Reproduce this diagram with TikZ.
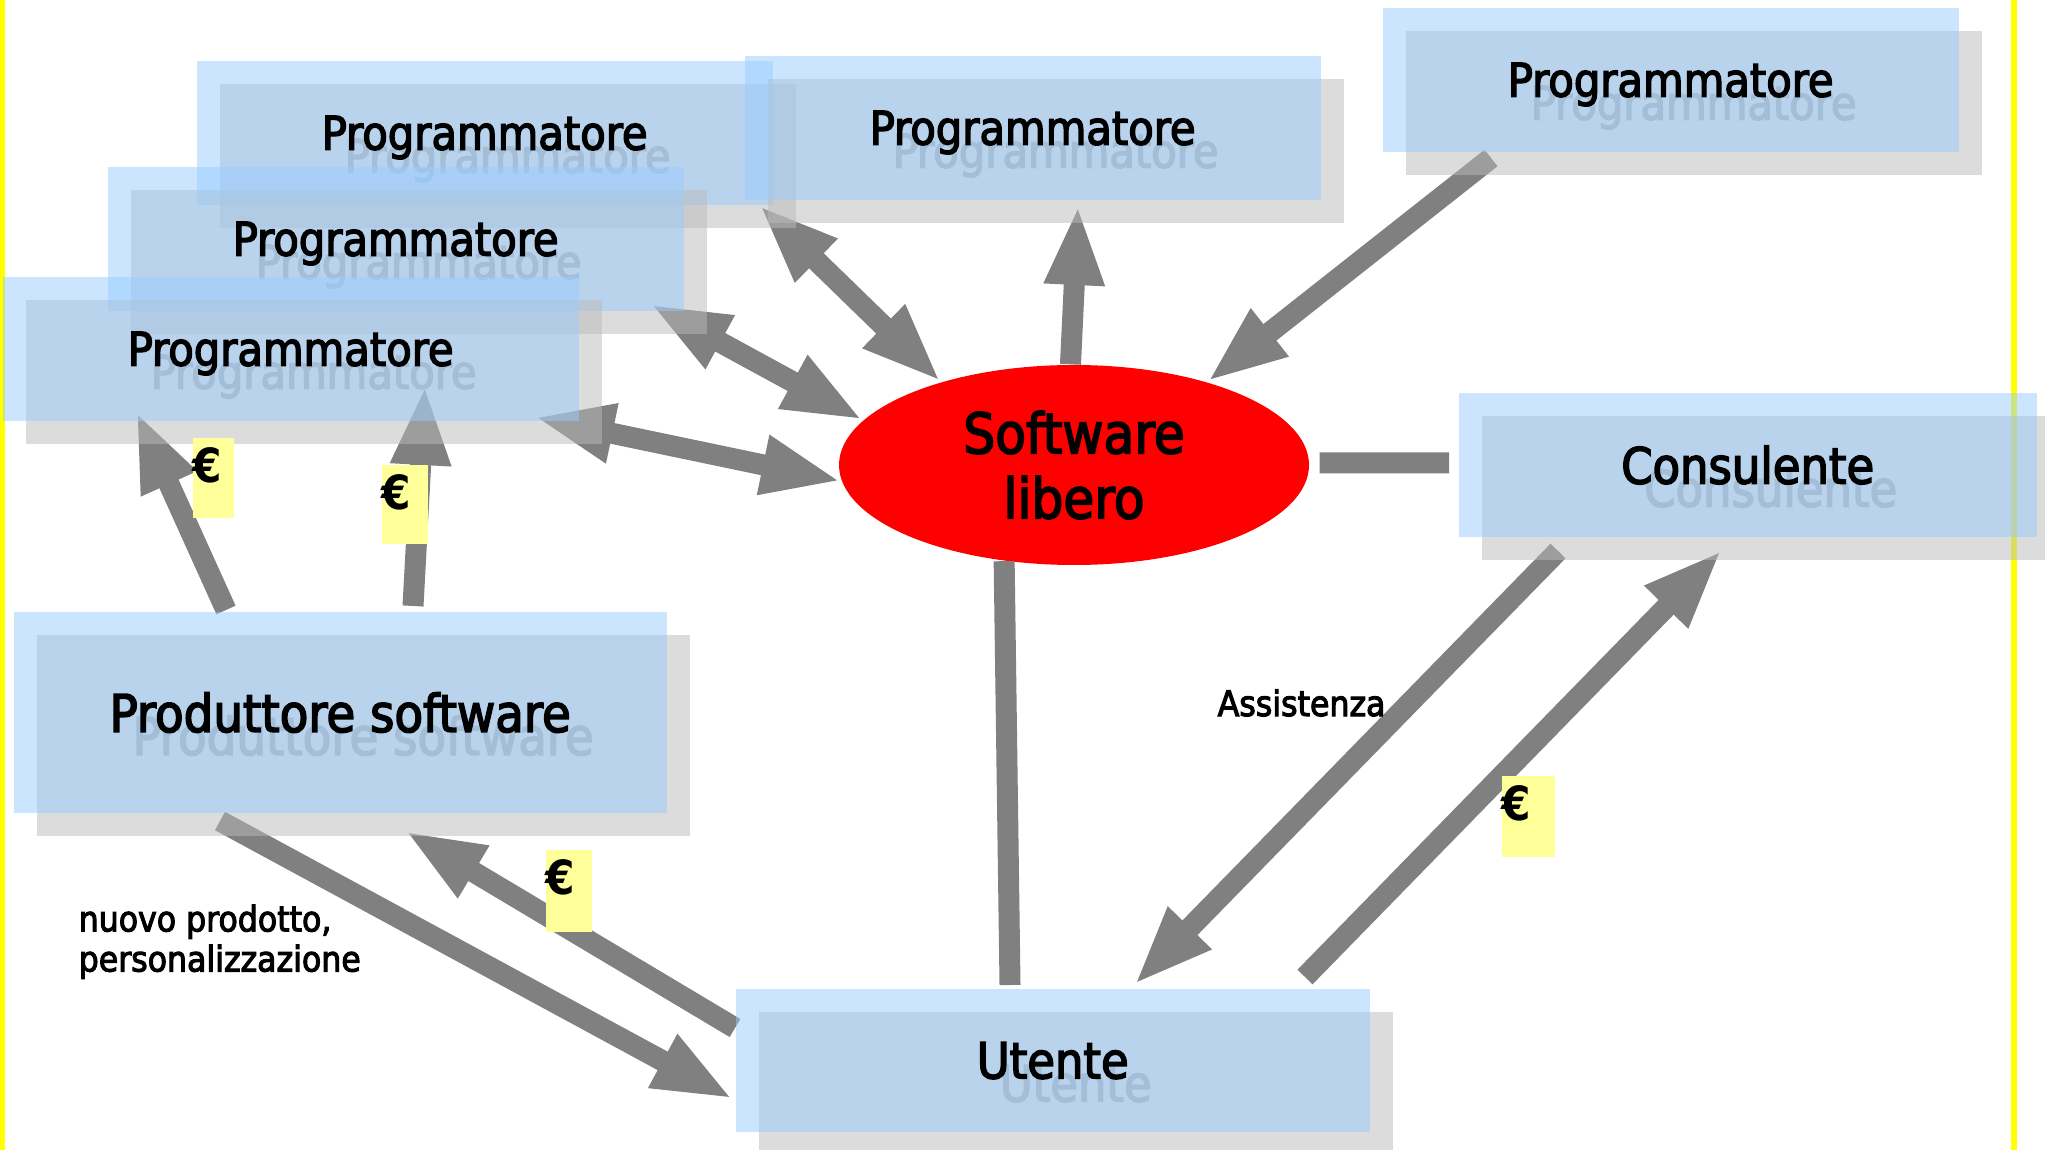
\documentclass[tikz,border=0pt]{standalone}
\usepackage{fontspec}
\setmainfont{DejaVu Sans Condensed}[UprightFeatures={FakeBold=3}]
\usetikzlibrary{arrows.meta,shapes.geometric}

\definecolor{boxblue}{HTML}{99CCFF}
\definecolor{shadowgray}{HTML}{BBBBBB}
\definecolor{ghostgray}{HTML}{B0B0B0}
\definecolor{flowgray}{HTML}{808080}
\definecolor{eurobg}{HTML}{FFFF99}
\definecolor{pageyellow}{HTML}{FFFF00}

\tikzset{
  box/.style={anchor=north west, inner sep=0pt, text depth=0pt, fill=boxblue, fill opacity=0.5, text opacity=1},
  shadowbox/.style={box, fill=shadowgray, text=ghostgray},
  prog/.style={minimum width=5.76cm, minimum height=1.44cm, font=\fontsize{13.2}{15.8}\selectfont},
  big/.style={font=\fontsize{14.2}{17}\selectfont},
  flow/.style={draw=flowgray, line width=0.21cm},
  eurobox/.style={anchor=north west, inner sep=0pt, fill=eurobg},
  eurosign/.style={anchor=north west, inner sep=0pt, yshift=-0.1cm, font=\fontsize{13.4}{16}\selectfont\bfseries},
  note/.style={inner sep=0pt, font=\fontsize{10}{11.4}\selectfont}
}

\begin{document}
\begin{tikzpicture}[>={Triangle[length=0.8cm,width=0.55cm]}]
\useasboundingbox (0,0) rectangle (20.45,-11.5);
\clip (0,0) rectangle (20.45,-11.5);
\fill[white] (0,0) rectangle (20.45,-11.5);
% page margins
\fill[pageyellow] (0,0) rectangle (0.05,-11.5);
\fill[pageyellow] (20.11,0) rectangle (20.17,-11.5);

% software libero
\node[ellipse, fill=red, minimum width=4.70cm, minimum height=2.00cm, inner sep=0pt, align=center,
  font=\fontsize{15.9}{18.5}\selectfont] (sl) at (10.74,-4.65) {Software\\libero};

% arrow ends at the boxes
\coordinate (p1a) at (7.59,-2.05);
\coordinate (p2a) at (6.50,-3.04);
\coordinate (p3a) at (5.34,-4.17);
\coordinate (p3b) at (1.36,-4.11);
\coordinate (p3c) at (4.25,-3.85);
\coordinate (p4a) at (10.78,-2.05);
\coordinate (p5a) at (14.91,-1.58);
\coordinate (cons) at (14.49,-4.63);
\coordinate (co1) at (15.58,-5.51);
\coordinate (co2) at (17.22,-5.50);
\coordinate (pr1) at (2.26,-6.10);
\coordinate (pr2) at (4.13,-6.06);
\coordinate (pr3) at (2.20,-8.21);
\coordinate (pr4) at (4.05,-8.31);
\coordinate (ut) at (10.10,-9.85);
\coordinate (ut1) at (7.33,-10.99);
\coordinate (ut2) at (7.35,-10.28);
\coordinate (ut3) at (11.34,-9.85);
\coordinate (ut4) at (13.05,-9.77);

% arrows
\draw[flow,<->] (p3a) -- (sl.184.7);
\draw[flow,<->] (p2a) -- (sl.168.8);
\draw[flow,<->] (p1a) -- (sl.148.9);
\draw[flow,->] (sl.92.3) -- (p4a);
\draw[flow,->] (p5a) -- (sl.32.6);
\draw[flow] ([shift={(0.1,0.02)}]sl.east) -- (cons);
\draw[flow] (sl.234) -- (ut);
\draw[flow,->] (pr1) -- (p3b);
\draw[flow,->] (pr2) -- (p3c);
\draw[flow,->] (pr3) -- (ut1);
\draw[flow,->] (ut2) -- (pr4);
\draw[flow,->] (co1) -- (ut3);
\draw[flow,->] (ut4) -- (co2);

% boxes, shadow first
\foreach \n/\x/\y in {p1/1.96/-0.60, p4/7.44/-0.55, p2/1.07/-1.66, p3/0.02/-2.76, p5/13.82/-0.07} {
  \node[shadowbox, prog] (\n s) at (\x+0.23,\y-0.23) {Programmatore};
  \node[box, prog] (\n) at (\x,\y) {Programmatore};
}
\node[shadowbox, big, minimum width=5.78cm, minimum height=1.44cm] (cs) at (14.81,-4.15) {Consulente};
\node[box, big, minimum width=5.78cm, minimum height=1.44cm] (co) at (14.58,-3.92) {Consulente};
\node[shadowbox, big, font=\fontsize{14.8}{17}\selectfont, minimum width=6.53cm, minimum height=2.01cm] (ps) at (0.36,-6.34) {Produttore software};
\node[box, big, font=\fontsize{14.8}{17}\selectfont, minimum width=6.53cm, minimum height=2.01cm] (pr) at (0.13,-6.11) {Produttore software};
\node[shadowbox, big, minimum width=6.34cm, minimum height=1.43cm] (us) at (7.58,-10.11) {Utente};
\node[box, big, minimum width=6.34cm, minimum height=1.43cm] (us) at (7.35,-9.88) {Utente};

% money
\node[eurobox, minimum width=0.41cm, minimum height=0.80cm] (e1) at (1.92,-4.37) {};
\node[eurosign] (e1t) at (e1.north west) {€};
\node[eurobox, minimum width=0.46cm, minimum height=0.79cm] (e2) at (3.81,-4.64) {};
\node[eurosign] (e2t) at (e2.north west) {€};
\node[eurobox, minimum width=0.46cm, minimum height=0.82cm] (e3) at (5.45,-8.49) {};
\node[eurosign] (e3t) at (e3.north west) {€};
\node[eurobox, minimum width=0.53cm, minimum height=0.81cm] (e4) at (15.01,-7.75) {};
\node[eurosign] (e4t) at (e4.north west) {€};

% labels
\node[note, anchor=base west] (assist) at (12.17,-7.16) {Assistenza};
\node[note, anchor=north west, align=left] (nuovo) at (0.78,-9.04) {nuovo prodotto,\\personalizzazione};
\end{tikzpicture}
\end{document}
